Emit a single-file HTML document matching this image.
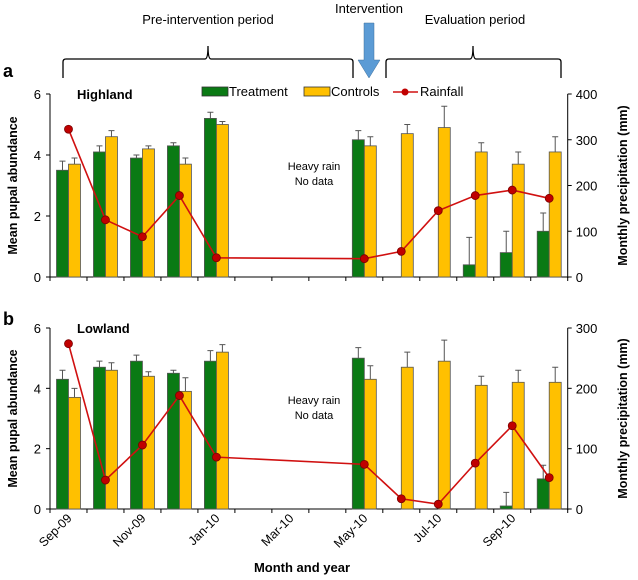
<!DOCTYPE html>
<html><head><meta charset="utf-8"><style>
html,body{margin:0;padding:0;background:#fff;}
svg{display:block;font-family:"Liberation Sans",Arial,sans-serif;}
</style></head><body>
<svg id="chart" width="638" height="580" viewBox="0 0 638 580" xmlns="http://www.w3.org/2000/svg">
<g>
<text x="208" y="24" font-size="13" text-anchor="middle">Pre-intervention period</text>
<path d="M63,78 V62 Q63,59 66,59 H205 Q208,59 208,46 Q208,59 211,59 H350 Q353,59 353,62 V78" fill="none" stroke="#000" stroke-width="1.3"/>
<text x="369" y="13" font-size="13" text-anchor="middle">Intervention</text>
<path d="M364,23 H374 V60 H380 L369,78 L358,60 H364 Z" fill="#5b9bd5" stroke="#41719c" stroke-width="0.5"/>
<text x="475" y="24" font-size="13" text-anchor="middle">Evaluation period</text>
<path d="M386,78 V62 Q386,59 389,59 H470 Q473,59 473,46 Q473,59 476,59 H558 Q561,59 561,62 V78" fill="none" stroke="#000" stroke-width="1.3"/>
</g>
<text x="3" y="77" font-size="18" font-weight="bold">a</text>
<text x="3" y="325" font-size="18" font-weight="bold">b</text>
<g id="pa"></g><g id="pb"></g>
<text x="302" y="572" font-size="13" font-weight="bold" text-anchor="middle">Month and year</text>
</svg>
<script>
const months = ["Sep-09","Oct-09","Nov-09","Dec-09","Jan-10","Feb-10","Mar-10","Apr-10","May-10","Jun-10","Jul-10","Aug-10","Sep-10","Oct-10"];
const tickLabels = ["Sep-09","","Nov-09","","Jan-10","","Mar-10","","May-10","","Jul-10","","Sep-10",""];
const leftTicks = [0,2,4,6];
const rightTicksA = [0,100,200,300,400];
const rightTicksB = [0,100,200,300];
// null = no data
const treatA = [3.5,4.1,3.9,4.3,5.2,null,null,null,4.5,null,null,0.4,0.8,1.5];
const treatErrA = [0.3,0.2,0.1,0.1,0.2,null,null,null,0.3,null,null,0.9,0.7,0.6];
const ctrlA = [3.7,4.6,4.2,3.7,5.0,null,null,null,4.3,4.7,4.9,4.1,3.7,4.1];
const ctrlErrA = [0.2,0.2,0.1,0.2,0.1,null,null,null,0.3,0.3,0.7,0.3,0.4,0.5];
const rainA = [323,125,88,178,42,null,null,null,40,56,145,178,190,172];
const treatB = [4.3,4.7,4.9,4.5,4.9,null,null,null,5.0,null,null,null,0.1,1.0];
const treatErrB = [0.3,0.2,0.2,0.1,0.35,null,null,null,0.35,null,null,null,0.45,0.45];
const ctrlB = [3.7,4.6,4.4,3.9,5.2,null,null,null,4.3,4.7,4.9,4.1,4.2,4.2];
const ctrlErrB = [0.3,0.25,0.15,0.45,0.25,null,null,null,0.45,0.5,0.7,0.3,0.4,0.5];
const rainB = [274,48,106,188,86,null,null,null,74,17,8,76,138,52];

const NS="http://www.w3.org/2000/svg";
function mk(parent,tag,attrs){const e=document.createElementNS(NS,tag);for(const k in attrs)e.setAttribute(k,attrs[k]);parent.appendChild(e);return e;}
const X0=50,X1=567.7,slot=(X1-X0)/months.length;
function xC(i){return X0+(i+0.5)*slot;}

function panel(g,cfg){
  const y0=cfg.y0,y6=cfg.y6;
  const yL=v=>y0-(v/6)*(y0-y6);
  const yR=v=>y0-(v/cfg.rmax)*(y0-y6);
  // axes
  let e=mk(g,"line",{x1:X0,y1:y6,x2:X0,y2:y0+1,stroke:"#000","stroke-width":1});
  
  
  e=mk(g,"line",{x1:X1,y1:y6,x2:X1,y2:y0+1,stroke:"#000","stroke-width":1});
  
  
  e=mk(g,"line",{x1:X0-3,y1:y0,x2:X1+3,y2:y0,stroke:"#000","stroke-width":1});
  
  
  for(let i=0;i<=months.length;i++){
    const t=mk(g,"line",{x1:X0+i*slot,y1:y0,x2:X0+i*slot,y2:y0+4,stroke:"#000"});
    
    
  }
  leftTicks.forEach(v=>{
    const t=mk(g,"line",{x1:X0-4,y1:yL(v),x2:X0,y2:yL(v),stroke:"#000"});
    
    
    const l=mk(g,"text",{x:X0-9,y:yL(v)+5,"font-size":13,"text-anchor":"end"});l.textContent=v;
    
    
  });
  cfg.rticks.forEach(v=>{
    const t=mk(g,"line",{x1:X1,y1:yR(v),x2:X1+4,y2:yR(v),stroke:"#000"});
    
    
    const l=mk(g,"text",{x:X1+8,y:yR(v)+5,"font-size":13});l.textContent=v;
    
    
  });
  let t=mk(g,"text",{transform:`translate(17,${(y0+y6)/2}) rotate(-90)`,"font-size":12.5,"font-weight":"bold","text-anchor":"middle"});
  t.textContent="Mean pupal abundance";
  
  
  t=mk(g,"text",{transform:`translate(627,${(y0+y6)/2}) rotate(-90)`,"font-size":12.5,"font-weight":"bold","text-anchor":"middle"});
  t.textContent="Monthly precipitation (mm)";
  
  
  t=mk(g,"text",{x:77,y:y6+5,"font-size":13,"font-weight":"bold"});t.textContent=cfg.title;
  
  
  t=mk(g,"text",{x:314,y:cfg.noteY,"font-size":11,"text-anchor":"middle"});t.textContent="Heavy rain";
  
  
  t=mk(g,"text",{x:314,y:cfg.noteY+15,"font-size":11,"text-anchor":"middle"});t.textContent="No data";
  
  
  const bw=12;
  function bars(vals,errs,dx,fill,name){
    vals.forEach((v,i)=>{
      if(v==null)return;
      const x=xC(i)+dx;
      if(errs[i]!=null){
        const ec=x+bw/2;
        const l=mk(g,"path",{d:`M${ec},${yL(v)} V${yL(v+errs[i])} M${ec-3},${yL(v+errs[i])} H${ec+3}`,stroke:"#555",fill:"none","stroke-width":1});
        
        
      }
      const r=mk(g,"rect",{x:x,y:yL(v),width:bw,height:y0-yL(v),fill:fill,stroke:"#555","stroke-width":0.8});
      
      
    });
  }
  bars(cfg.treat,cfg.terr,-bw,"#0a7a14","treatment");
  bars(cfg.ctrl,cfg.cerr,0,"#ffc000","control");
  const pts=[];cfg.rain.forEach((v,i)=>{if(v!=null)pts.push([xC(i),yR(v)]);});
  const pl=mk(g,"polyline",{points:pts.map(p=>p.join(",")).join(" "),fill:"none",stroke:"#d01010","stroke-width":1.6});
  
  
  pts.forEach(p=>{
    const c=mk(g,"circle",{cx:p[0],cy:p[1],r:4,fill:"#c00000",stroke:"#7a0000","stroke-width":0.8});
    
    
  });
}
const ga=document.getElementById("pa"),gb=document.getElementById("pb");




panel(ga,{y0:277,y6:94,rmax:400,rticks:rightTicksA,treat:treatA,terr:treatErrA,ctrl:ctrlA,cerr:ctrlErrA,rain:rainA,title:"Highland",noteY:170});
panel(gb,{y0:509,y6:328,rmax:300,rticks:rightTicksB,treat:treatB,terr:treatErrB,ctrl:ctrlB,cerr:ctrlErrB,rain:rainB,title:"Lowland",noteY:404});
// legend
const lg=document.createElementNS(NS,"g");document.getElementById("chart").appendChild(lg);


let e=mk(lg,"rect",{x:202,y:87,width:26,height:9,fill:"#0a7a14",stroke:"#333","stroke-width":0.8});


e=mk(lg,"text",{x:229,y:96,"font-size":13});e.textContent="Treatment";


e=mk(lg,"rect",{x:304,y:87,width:26,height:9,fill:"#ffc000",stroke:"#333","stroke-width":0.8});


e=mk(lg,"text",{x:331,y:96,"font-size":13});e.textContent="Controls";


e=mk(lg,"line",{x1:393,y1:92,x2:418,y2:92,stroke:"#d01010","stroke-width":1.6});


e=mk(lg,"circle",{cx:405,cy:92,r:3.5,fill:"#c00000"});


e=mk(lg,"text",{x:420,y:96,"font-size":13});e.textContent="Rainfall";


// x tick labels (bottom panel)
const xg=document.createElementNS(NS,"g");document.getElementById("chart").appendChild(xg);


tickLabels.forEach((s,i)=>{
  if(!s)return;
  const t=mk(xg,"text",{transform:`translate(${xC(i)+4},${519}) rotate(-45)`,"font-size":12.5,"text-anchor":"end"});
  t.textContent=s;
  
  
});
</script>
</body></html>
